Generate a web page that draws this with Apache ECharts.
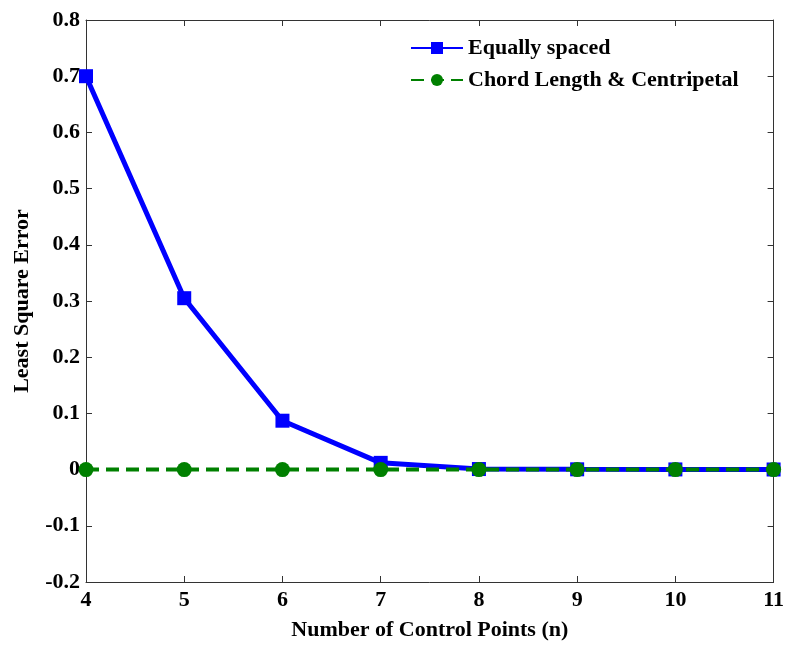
<!DOCTYPE html>
<html><head><meta charset="utf-8">
<script src="https://cdn.jsdelivr.net/npm/echarts@6/dist/echarts.min.js"></script>
<style>html,body{margin:0;padding:0;background:#fff}#c{width:787px;height:646px}</style>
</head><body><div id="c"></div>
<script>
const xValues = [4, 5, 6, 7, 8, 9, 10, 11];
const equallySpaced = [0.700, 0.305, 0.087, 0.012, 0.001, 0.0005, 0.0003, 0.0002];
const chordCentripetal = [0, 0, 0, 0, 0, 0, 0, 0];
const seriesNames = ['Equally spaced', 'Chord Length & Centripetal'];
const xTitle = 'Number of Control Points (n)';
const yTitle = 'Least Square Error';

const font = 'Liberation Serif, Times New Roman, serif';
const chart = echarts.init(document.getElementById('c'));
const pair = arr => xValues.map((x, i) => [x, arr[i]]);
const tickAxisCommon = {
  axisLine: {show: true, onZero: false, lineStyle: {color: '#333', width: 1}},
  axisTick: {show: true, inside: true, length: 6, lineStyle: {color: '#333'}},
  splitLine: {show: false}
};
const txt = {fontFamily: font, fontWeight: 'bold', fontSize: 22, color: '#000'};
chart.setOption({
  animation: false,
  backgroundColor: '#fff',
  grid: {left: 86, right: 13, top: 20, bottom: 59, show: false},
  legend: {
    orient: 'vertical', left: 405, top: 32, itemGap: 10, itemWidth: 52, itemHeight: 15,
    textStyle: Object.assign({padding: [0, 0, 0, 0]}, txt),
    data: seriesNames
  },
  xAxis: [
    Object.assign({type: 'value', min: 4, max: 11, interval: 1, position: 'bottom',
      name: xTitle, nameLocation: 'middle', nameGap: 37,
      nameTextStyle: txt,
      axisLabel: Object.assign({margin: 7}, txt)}, tickAxisCommon),
    Object.assign({type: 'value', min: 4, max: 11, interval: 1, position: 'top',
      axisLabel: {show: false}}, tickAxisCommon)
  ],
  yAxis: [
    Object.assign({type: 'value', min: -0.2, max: 0.8, interval: 0.1, position: 'left',
      name: yTitle, nameLocation: 'middle', nameGap: 53,
      nameTextStyle: txt,
      axisLabel: Object.assign({margin: 6,
        formatter: v => { const r = Math.round(v * 10) / 10; return r === 0 ? '0' : String(r); }}, txt)}, tickAxisCommon),
    Object.assign({type: 'value', min: -0.2, max: 0.8, interval: 0.1, position: 'right',
      axisLabel: {show: false}}, tickAxisCommon)
  ],
  series: [
    {
      name: seriesNames[0], type: 'line', data: pair(equallySpaced),
      symbol: 'rect', symbolSize: 14, color: '#0000ff',
      lineStyle: {width: 5, color: '#0000ff'}, itemStyle: {color: '#0000ff'}, z: 2
    },
    {
      name: seriesNames[1], type: 'line', data: pair(chordCentripetal),
      symbol: 'circle', symbolSize: 15, color: '#008000',
      lineStyle: {width: 4, color: '#008000', type: [13, 7]}, itemStyle: {color: '#008000'}, z: 3
    }
  ]
});
</script></body></html>
